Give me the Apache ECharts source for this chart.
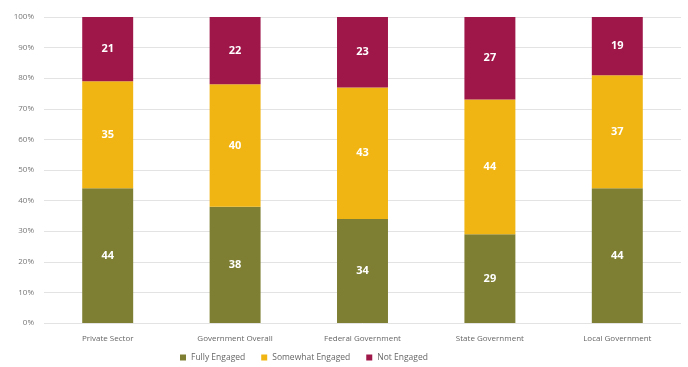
<!DOCTYPE html>
<html><head><meta charset="utf-8">
<script src="https://cdn.jsdelivr.net/npm/echarts@6/dist/echarts.min.js"></script>
<style>html,body{margin:0;padding:0;background:#fff}#c{width:688px;height:367px}</style>
</head><body><div id="c"></div>
<script>
const categories = ['Private Sector','Government Overall','Federal Government','State Government','Local Government'];
const fullyEngaged = [44,38,34,29,44];
const somewhatEngaged = [35,40,43,44,37];
const notEngaged = [21,22,23,27,19];
const seriesNames = ['Fully Engaged','Somewhat Engaged','Not Engaged'];
const colors = ['#7e7f33','#f0b512','#9f1649'];

const chart = echarts.init(document.getElementById('c'));
const label = {show:true,color:'#fff',fontWeight:'bold',fontSize:11,fontFamily:'Open Sans'};
const mk = (name,data,i)=>({name,type:'bar',stack:'a',data,barWidth:'40%',itemStyle:{color:colors[i]},label});
chart.setOption({
  animation:false,
  color:colors,
  grid:{left:44,right:7,top:17,bottom:44},
  legend:{left:175,bottom:0,itemWidth:6,itemHeight:6,itemGap:16,icon:'rect',textStyle:{fontSize:8.5,color:'#666',fontFamily:'Open Sans'},data:seriesNames},
  xAxis:{type:'category',data:categories,axisLine:{show:false},axisTick:{show:false},
    axisLabel:{fontSize:8,color:'#666',margin:12,fontFamily:'Open Sans'}},
  yAxis:{type:'value',min:0,max:100,interval:10,
    axisLabel:{formatter:'{value}%',fontSize:8,color:'#777',margin:10,fontFamily:'Open Sans'},
    splitLine:{lineStyle:{color:'#e3e3e3'}}},
  series:[mk(seriesNames[0],fullyEngaged,0),mk(seriesNames[1],somewhatEngaged,1),mk(seriesNames[2],notEngaged,2)]
});
</script></body></html>
